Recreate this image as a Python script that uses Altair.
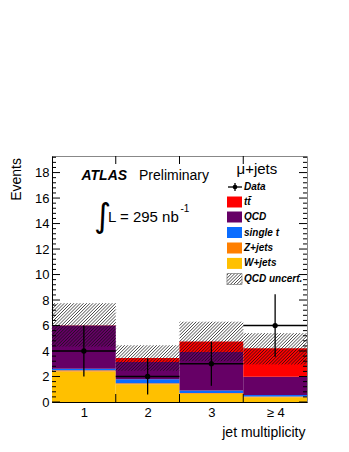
import math
import altair as alt
import pandas as pd

# ---------------- data ----------------
bin_centers = [1, 2, 3, 4]
bin_labels = ["1", "2", "3", "≥ 4"]
w_jets = [2.40, 1.40, 0.65, 0.38]
z_jets = [0.10, 0.08, 0.05, 0.06]
single_t = [0.10, 0.30, 0.20, 0.10]
qcd = [3.40, 1.35, 3.02, 1.44]
ttbar = [0.02, 0.32, 0.83, 2.24]
qcd_unc_lo = [4.35, 2.45, 3.20, 2.95]
qcd_unc_hi = [7.75, 4.45, 6.30, 5.40]
data_n = [4, 2, 3, 6]
data_err_lo = [2.00, 0.59, 1.27, 3.55]
data_err_hi = [6.00, 3.41, 4.73, 8.45]

comp_names = ["W+jets", "Z+jets", "single t", "QCD", "ttbar"]
comp_values = [w_jets, z_jets, single_t, qcd, ttbar]
comp_colors = ["#ffc000", "#ff7f00", "#0a6cff", "#660066", "#ff0000"]

# ---------------- geometry ----------------
W, H = 255, 246
YMAX = 19.3
KX = W / 4.0
KY = H / YMAX
FONT = "Liberation Sans"

xs = alt.Scale(domain=[0.5, 4.5], nice=False, zero=False)
ys = alt.Scale(domain=[0, YMAX], nice=False, zero=False)

AX = alt.Axis(values=bin_centers, ticks=False, grid=False, domainColor="#000",
              labelExpr="datum.value == 4 ? '≥ 4\u00a0\u00a0\u00a0\u00a0' : datum.value",
              labelFont=FONT, labelFontSize=13, labelColor="#000",
              labelPadding=4, title=None)
AY = alt.Axis(values=list(range(0, 19, 2)), ticks=False, grid=False,
              domainColor="#000", labelFont=FONT, labelFontSize=13,
              labelColor="#000", labelPadding=3, title=None)

# stacked histogram rectangles
rows = []
base = [0.0] * 4
for name, vals in zip(comp_names, comp_values):
    for i in range(4):
        rows.append(dict(comp=name, x0=bin_centers[i] - 0.5, x1=bin_centers[i] + 0.5,
                         y0=base[i], y1=base[i] + vals[i]))
        base[i] += vals[i]
stack_df = pd.DataFrame(rows)


def hatch(x0, x1, y0, y1, s=3.2):
    px0, px1 = (x0 - 0.5) * KX, (x1 - 0.5) * KX
    py0, py1 = y0 * KY, y1 * KY
    segs = []
    kmin = math.floor((py0 - px1) / s)
    kmax = math.ceil((py1 - px0) / s)
    for k in range(kmin, kmax + 1):
        c = k * s
        a = max(px0, py0 - c)
        b = min(px1, py1 - c)
        if b > a:
            segs.append(dict(hx=a / KX + 0.5, hy=(a + c) / KY,
                             hx2=b / KX + 0.5, hy2=(b + c) / KY))
    return segs


hrows = []
for i in range(4):
    hrows += hatch(bin_centers[i] - 0.5, bin_centers[i] + 0.5, qcd_unc_lo[i], qcd_unc_hi[i])
hatch_df = pd.DataFrame(hrows)

# legend hatch box (pixel box -> data coords)
lb_x0, lb_x1 = 175, 190
lb_top, lb_bot = 117.5, 128.5
leg_hatch = pd.DataFrame(hatch(0.5 + lb_x0 / KX, 0.5 + lb_x1 / KX,
                               (H - lb_bot) / KY, (H - lb_top) / KY, s=3.2))

data_df = pd.DataFrame(dict(x=bin_centers, n=data_n, lo=data_err_lo, hi=data_err_hi,
                            x0=[c - 0.5 for c in bin_centers], x1=[c + 0.5 for c in bin_centers]))

X = lambda f: alt.X(f, scale=xs, axis=AX)
Y = lambda f: alt.Y(f, scale=ys, axis=AY)

stack = alt.Chart(stack_df).mark_rect().encode(
    x=X("x0:Q"), x2="x1:Q", y=Y("y0:Q"), y2="y1:Q",
    color=alt.Color("comp:N", scale=alt.Scale(domain=comp_names, range=comp_colors), legend=None),
)

hatch_layer = alt.Chart(hatch_df).mark_rule(color="#111", strokeWidth=0.9, opacity=0.85).encode(
    x=X("hx:Q"), y=Y("hy:Q"), x2="hx2:Q", y2="hy2:Q")

err_v = alt.Chart(data_df).mark_rule(color="#000", strokeWidth=1.3).encode(
    x=X("x:Q"), y=Y("lo:Q"), y2="hi:Q")
err_h = alt.Chart(data_df).mark_rule(color="#000", strokeWidth=1.3).encode(
    x=X("x0:Q"), x2="x1:Q", y=Y("n:Q"))
pts = alt.Chart(data_df).mark_circle(color="#000", size=28, opacity=1).encode(
    x=X("x:Q"), y=Y("n:Q"))

# ---------------- ROOT-style inner ticks ----------------
major_y = pd.DataFrame(dict(v=[float(v) for v in range(0, 19, 2)]))
minor_y = pd.DataFrame(dict(v=[round(0.4 * k, 1) for k in range(0, 49) if k % 5 != 0]))
edges = pd.DataFrame(dict(v=[1.5, 2.5, 3.5]))
tick_layers = []
for df, ln in ((major_y, 8), (minor_y, 4)):
    tick_layers.append(alt.Chart(df).mark_rule(color="#000", strokeWidth=1).encode(
        x=alt.value(0), x2=alt.value(ln), y=Y("v:Q")))
    tick_layers.append(alt.Chart(df).mark_rule(color="#000", strokeWidth=1).encode(
        x=alt.value(W - ln), x2=alt.value(W), y=Y("v:Q")))
tick_layers.append(alt.Chart(edges).mark_rule(color="#000", strokeWidth=1).encode(
    x=X("v:Q"), y=alt.value(0), y2=alt.value(8)))
tick_layers.append(alt.Chart(edges).mark_rule(color="#000", strokeWidth=1).encode(
    x=X("v:Q"), y=alt.value(H - 8), y2=alt.value(H)))

dummy = pd.DataFrame(dict(a=[0]))


def txt(text, x, y, size, weight="normal", style="normal", align="left",
        baseline="alphabetic", angle=0, font=FONT):
    return alt.Chart(dummy).mark_text(text=text, fontSize=size, fontWeight=weight,
                                      fontStyle=style, align=align, baseline=baseline,
                                      angle=angle, font=font, color="#000").encode(
        x=alt.value(x), y=alt.value(y))


texts = [
    txt("ATLAS", 29.5, 24, 14, weight="bold", style="italic"),
    txt("Preliminary", 87, 24, 14),
    txt("∫", 42, 61, 33, baseline="middle", font="DejaVu Sans"),
    txt("L = 295 nb", 56, 65.5, 15),
    txt("-1", 128.5, 56, 10),
    txt("μ+jets", 184.5, 18, 15),
    txt("Events", -35.5, 2, 14, align="right", baseline="middle", angle=270),
    txt("jet multiplicity", 253.5, 281, 14, align="right"),
]

# ---------------- legend ----------------
leg_names = ["tt̄", "QCD", "single t", "Z+jets", "W+jets"]
leg_colors = ["#ff0000", "#660066", "#0a6cff", "#ff7f00", "#ffc000"]
leg_y = [46, 61, 76.5, 92, 107.4]
legend = []
for name, col, yy in zip(leg_names, leg_colors, leg_y):
    legend.append(alt.Chart(dummy).mark_rect(color=col).encode(
        x=alt.value(lb_x0), x2=alt.value(lb_x1), y=alt.value(yy - 5.5), y2=alt.value(yy + 5.5)))
    legend.append(txt(name, 192, yy, 10, weight="bold", style="italic", baseline="middle"))
legend.append(alt.Chart(dummy).mark_rule(color="#000", strokeWidth=1.3).encode(
    x=alt.value(176), x2=alt.value(190), y=alt.value(31)))
legend.append(alt.Chart(dummy).mark_rule(color="#000", strokeWidth=1.3).encode(
    x=alt.value(183), y=alt.value(27), y2=alt.value(35)))
legend.append(alt.Chart(dummy).mark_circle(color="#000", size=22, opacity=1).encode(
    x=alt.value(183), y=alt.value(31)))
legend.append(txt("Data", 192, 31, 10, weight="bold", style="italic", baseline="middle"))
legend.append(alt.Chart(leg_hatch).mark_rule(color="#111", strokeWidth=0.9, opacity=0.85).encode(
    x=X("hx:Q"), y=Y("hy:Q"), x2="hx2:Q", y2="hy2:Q"))
legend.append(alt.Chart(dummy).mark_rect(fill=None, stroke="#666", strokeWidth=0.6).encode(
    x=alt.value(lb_x0), x2=alt.value(lb_x1), y=alt.value(lb_top), y2=alt.value(lb_bot)))
legend.append(txt("QCD uncert.", 192, 123, 10, weight="bold", style="italic", baseline="middle"))

chart = alt.layer(stack, hatch_layer, err_v, err_h, pts, *tick_layers, *texts, *legend).properties(
    width=W, height=H,
    padding={"left": 44, "top": 148, "right": 30, "bottom": 40},
    autosize=alt.AutoSizeParams(type="none"),
).configure_view(stroke="#888", strokeWidth=1)

chart.save("out.html", embed_options={"renderer": "svg", "actions": False})
